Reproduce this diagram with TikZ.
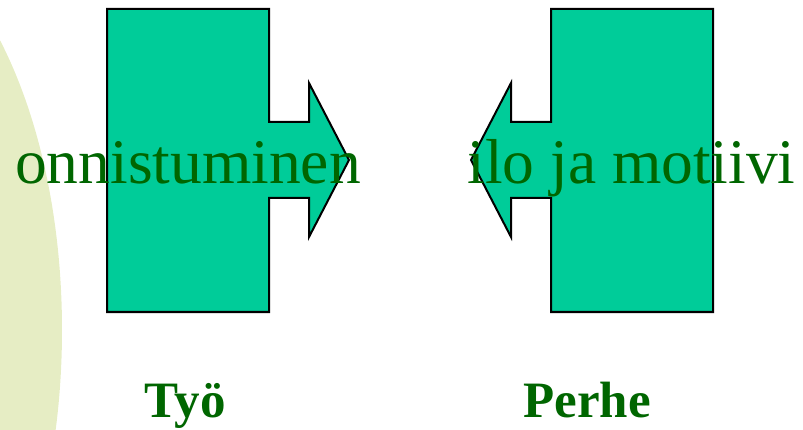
\documentclass[tikz,border=0pt]{standalone}
\usepackage{fontspec}
\setmainfont{Liberation Serif}
\usetikzlibrary{calc}

\definecolor{boxgreen}{RGB}{0,204,153}
\definecolor{textgreen}{RGB}{0,102,0}
\definecolor{paleolive}{RGB}{230,237,196}

\begin{document}
\begin{tikzpicture}[x=1pt, y=-1pt,
  block/.style={fill=boxgreen, draw=black, line width=2pt, line join=miter},
  word/.style={text=textgreen, inner sep=0pt, anchor=base, font=\fontsize{63.5}{70}\selectfont},
  title/.style={text=textgreen, inner sep=0pt, anchor=base, font=\bfseries\fontsize{51}{56}\selectfont}]
  \useasboundingbox (0,0) rectangle (803,430);

  \begin{scope}
    \clip (0,0) rectangle (803,430);
    \fill[paleolive] (-150,330) ellipse [x radius=212, y radius=410];
  \end{scope}

  % work block, arrow to the right
  \coordinate (WA) at (107,9);
  \coordinate (WB) at (269,312);
  \draw[block] (WA) -- (WA -| WB) -- (269,122) -- (309,122) -- (309,83)
    -- (349,160) -- (309,237) -- (309,198) -- (269,198) -- (WB) -- (WB -| WA) -- cycle;

  % family block, arrow to the left
  \coordinate (FA) at (713,9);
  \coordinate (FB) at (551,312);
  \draw[block] (FA) -- (FA -| FB) -- (551,122) -- (511,122) -- (511,83)
    -- (471,160) -- (511,237) -- (511,198) -- (551,198) -- (FB) -- (FB -| FA) -- cycle;

  \node[word] (success) at (188,184) {onnistuminen};
  \node[word] (joy) at (631.5,184) {ilo ja motiivi};

  \node[title] (work) at (185,417) {Työ};
  \node[title] (family) at (587,417) {Perhe};
\end{tikzpicture}
\end{document}
